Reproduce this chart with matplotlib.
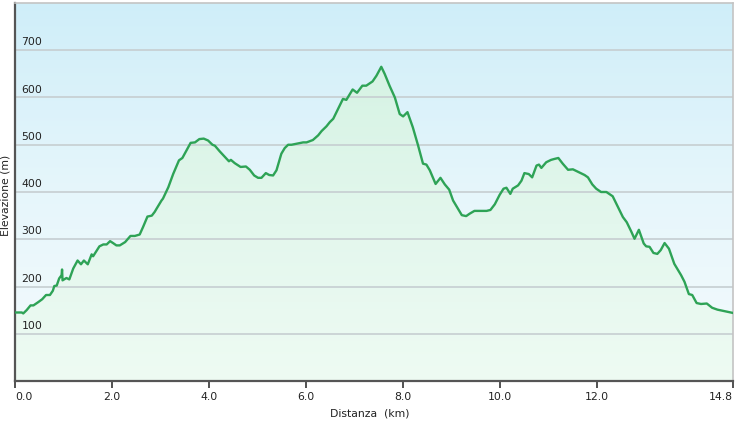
import numpy as np
import matplotlib
matplotlib.use('Agg')
import matplotlib.pyplot as plt
from matplotlib.colors import LinearSegmentedColormap

# Profilo altimetrico (distanza in km, quota in m)
distanza = [0.00, 0.14, 0.17, 0.24, 0.32, 0.38, 0.48, 0.56, 0.64, 0.72,
            0.78, 0.81, 0.86, 0.91, 0.96, 0.97, 0.98, 1.06, 1.12, 1.20,
            1.29, 1.36, 1.42, 1.50, 1.58, 1.61, 1.74, 1.82, 1.89, 1.96,
            2.02, 2.09, 2.16, 2.27, 2.38, 2.47, 2.57, 2.64, 2.73, 2.82,
            2.88, 2.92, 3.02, 3.05, 3.16, 3.26, 3.38, 3.45, 3.54, 3.62,
            3.71, 3.80, 3.89, 3.98, 4.07, 4.12, 4.22, 4.33, 4.41, 4.45,
            4.53, 4.65, 4.76, 4.84, 4.93, 5.01, 5.08, 5.17, 5.24, 5.32,
            5.39, 5.49, 5.56, 5.63, 5.70, 5.80, 5.94, 6.01, 6.14, 6.25,
            6.32, 6.42, 6.49, 6.56, 6.66, 6.76, 6.83, 6.96, 7.05, 7.16,
            7.24, 7.37, 7.45, 7.55, 7.62, 7.72, 7.83, 7.93, 8.00, 8.09,
            8.20, 8.31, 8.41, 8.48, 8.55, 8.67, 8.77, 8.86, 8.95, 9.03,
            9.13, 9.21, 9.30, 9.37, 9.47, 9.58, 9.72, 9.80, 9.89, 9.99,
            10.07, 10.13, 10.21, 10.26, 10.37, 10.44, 10.50, 10.59, 10.66, 10.75,
            10.80, 10.85, 10.95, 11.05, 11.12, 11.20, 11.29, 11.40, 11.50, 11.62,
            11.74, 11.81, 11.90, 11.98, 12.08, 12.19, 12.32, 12.43, 12.53, 12.61,
            12.70, 12.77, 12.86, 12.96, 13.01, 13.08, 13.16, 13.24, 13.31, 13.39,
            13.48, 13.59, 13.73, 13.80, 13.89, 13.96, 14.05, 14.14, 14.26, 14.37,
            14.48, 14.62, 14.80]
quota = [145, 145, 143, 150, 160, 160, 167, 173, 182, 182,
         191, 201, 202, 217, 224, 236, 213, 218, 215, 238,
         255, 247, 255, 247, 268, 264, 285, 289, 289, 296,
         292, 287, 287, 294, 307, 307, 310, 326, 348, 350,
         358, 365, 382, 386, 410, 438, 467, 472, 489, 504,
         505, 512, 513, 509, 500, 498, 486, 474, 465, 468,
         461, 453, 454, 447, 435, 430, 430, 440, 436, 435,
         446, 481, 493, 500, 500, 502, 505, 505, 510, 520,
         529, 539, 548, 555, 576, 597, 595, 617, 610, 625,
         625, 634, 646, 665, 650, 625, 600, 565, 560, 569,
         537, 498, 460, 458, 446, 417, 430, 416, 405, 382,
         365, 351, 349, 354, 360, 360, 360, 362, 374, 394,
         407, 409, 396, 407, 414, 424, 440, 438, 431, 456,
         458, 451, 463, 468, 470, 472, 460, 447, 448, 442,
         436, 431, 416, 407, 400, 400, 391, 368, 347, 336,
         317, 301, 320, 291, 285, 284, 271, 269, 277, 292,
         280, 248, 224, 210, 184, 182, 165, 163, 164, 155,
         151, 148, 144]

x_ticks = [0.0, 2.0, 4.0, 6.0, 8.0, 10.0, 12.0, 14.8]
y_ticks = [100, 200, 300, 400, 500, 600, 700]

x_max = 14.8
y_max = 800

fig = plt.figure(figsize=(7.35, 4.23), dpi=100)
ax = fig.add_axes([15/735, 42/423, 718/735, 378/423])
ax.set_xlim(0, x_max)
ax.set_ylim(0, y_max)

# Sfondo sfumato
sfondo = LinearSegmentedColormap.from_list('sfondo', ['#f5fbfd', '#e6f6fb', '#cfeef9'])
grad = np.linspace(0, 1, 256).reshape(-1, 1)
ax.imshow(grad, cmap=sfondo, origin='lower', aspect='auto',
          extent=[0, x_max, 0, y_max], zorder=0)

# Riempimento sotto la curva
riemp = LinearSegmentedColormap.from_list('riemp', ['#eefbf3', '#e3f7ed', '#d6f3e4'])
img = ax.imshow(np.linspace(0, 1, 256).reshape(-1, 1), cmap=riemp, origin='lower',
                aspect='auto', extent=[0, x_max, 0, max(quota)], zorder=1)
poly = ax.fill_between(distanza, quota, 0, color='none', lw=0)
img.set_clip_path(poly.get_paths()[0], transform=ax.transData)

# Griglia
for v in y_ticks:
    ax.axhline(v, color='#c6ced1', lw=1.2, zorder=2)
    ax.text(0.13, v + 6, str(v), fontsize=7.8, color='#222222',
            ha='left', va='bottom', zorder=3)

ax.plot(distanza, quota, color='#2ea356', lw=1.7, zorder=4, solid_joinstyle='round')

ax.set_yticks([])
ax.set_xticks(x_ticks)
ax.set_xticklabels(['%.1f' % t for t in x_ticks], fontsize=7.8, color='#222222')
ax.tick_params(axis='x', length=5, width=1.2, color='#333333', pad=3)
labels = ax.get_xticklabels()
labels[0].set_ha('left')
labels[-1].set_ha('right')

for s in ['left', 'bottom']:
    ax.spines[s].set_color('#555555')
    ax.spines[s].set_linewidth(1.6)
for s in ['top', 'right']:
    ax.spines[s].set_color('#c4c4c4')
    ax.spines[s].set_linewidth(1.2)

fig.text(370/735, 1 - 413/423, 'Distanza  (km)', fontsize=7.8, color='#222222',
         ha='center', va='center')
fig.text(6/735, 1 - 195/423, 'Elevazione (m)', fontsize=7.8, color='#222222',
         ha='center', va='center', rotation=90)

fig.savefig('out.png', dpi=100)
